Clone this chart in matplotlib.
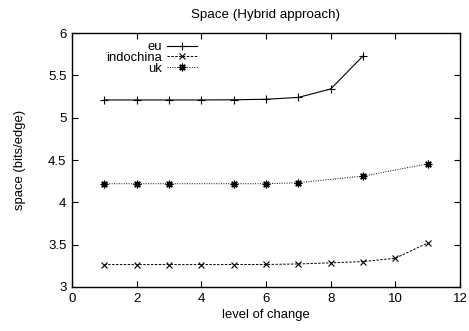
import matplotlib
matplotlib.use("Agg")
import matplotlib.pyplot as plt

plt.rcParams['font.family'] = ['Liberation Sans', 'DejaVu Sans']

# data
EU_X = [1, 2, 3, 4, 5, 6, 7, 8, 9]
EU_Y = [5.21, 5.21, 5.21, 5.21, 5.212, 5.218, 5.24, 5.34, 5.73]

INDO_X = [1, 2, 3, 4, 5, 6, 7, 8, 9, 10, 11]
INDO_Y = [3.265, 3.265, 3.265, 3.265, 3.265, 3.266, 3.272, 3.285, 3.30, 3.34, 3.52]

UK_X = [1, 2, 3, 5, 6, 7, 9, 11]
UK_Y = [4.22, 4.22, 4.22, 4.22, 4.22, 4.232, 4.31, 4.455]

fig = plt.figure(figsize=(4.69, 3.31), dpi=100)
ax = fig.add_axes([0.1535, 0.133, 0.8275, 0.767])

ax.plot(EU_X, EU_Y, color='black', lw=0.8, ls='-', marker='+', ms=6,
        mew=0.8, label='eu')
ax.plot(INDO_X, INDO_Y, color='black', lw=0.7, ls=(0, (2.5, 1.5)), marker='x',
        ms=4, mew=0.8, label='indochina')
ax.plot(UK_X, UK_Y, color='black', lw=0.7, ls=(0, (1, 1.5)), marker=(8, 2, 0),
        ms=5.5, mew=0.9, label='uk')

ax.set_xlim(0, 12)
ax.set_ylim(3, 6)
ax.set_xticks(range(0, 13, 2))
ax.set_yticks([3, 3.5, 4, 4.5, 5, 5.5, 6])
ax.set_yticklabels(['3', '3.5', '4', '4.5', '5', '5.5', '6'])
ax.tick_params(direction='in', top=True, right=True, length=4, width=0.8,
               labelsize=9.5, colors='black', pad=4)
for s in ax.spines.values():
    s.set_linewidth(1.0)

ax.set_xlabel('level of change', fontsize=9.4, labelpad=3)
ax.set_ylabel('space (bits/edge)', fontsize=9.4, labelpad=16)
ax.set_title('Space (Hybrid approach)', fontsize=9.6, pad=11)

ax.legend(loc='upper left', bbox_to_anchor=(0.068, 1.0), frameon=False,
          markerfirst=False, fontsize=9.4, handlelength=2.3, handletextpad=0.4,
          labelspacing=-0.1, borderaxespad=0.2)

fig.savefig('out.png', dpi=100)
